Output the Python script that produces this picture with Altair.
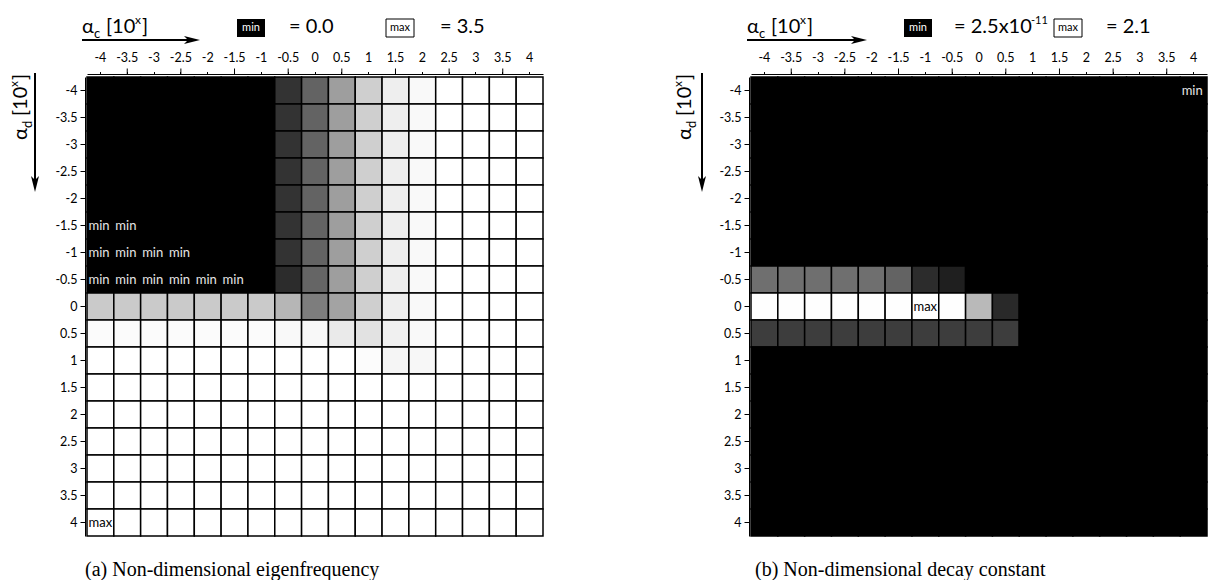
import altair as alt
import pandas as pd

# ---------------- data ----------------
ticks = ["-4", "-3.5", "-3", "-2.5", "-2", "-1.5", "-1", "-0.5", "0",
         "0.5", "1", "1.5", "2", "2.5", "3", "3.5", "4"]

# (a) non-dimensional eigenfrequency, rows = alpha_d (-4 .. 4), cols = alpha_c (-4 .. 4)
eig_rows = [
    [0, 0, 0, 0, 0, 0, 0, 0.74, 1.47, 2.28, 2.91, 3.29, 3.43, 3.5, 3.5, 3.5, 3.5],
    [0, 0, 0, 0, 0, 0, 0, 0.74, 1.47, 2.28, 2.91, 3.29, 3.43, 3.5, 3.5, 3.5, 3.5],
    [0, 0, 0, 0, 0, 0, 0, 0.74, 1.47, 2.28, 2.91, 3.29, 3.43, 3.5, 3.5, 3.5, 3.5],
    [0, 0, 0, 0, 0, 0, 0, 0.74, 1.47, 2.28, 2.91, 3.29, 3.43, 3.5, 3.5, 3.5, 3.5],
    [0, 0, 0, 0, 0, 0, 0, 0.74, 1.47, 2.28, 2.91, 3.29, 3.43, 3.5, 3.5, 3.5, 3.5],
    [0, 0, 0, 0, 0, 0, 0, 0.74, 1.47, 2.28, 2.91, 3.29, 3.43, 3.5, 3.5, 3.5, 3.5],
    [0, 0, 0, 0, 0, 0, 0, 0.74, 1.47, 2.28, 2.91, 3.29, 3.43, 3.5, 3.5, 3.5, 3.5],
    [0, 0, 0, 0, 0, 0, 0, 0.63, 1.50, 2.28, 2.91, 3.29, 3.43, 3.5, 3.5, 3.5, 3.5],
    [2.85, 2.85, 2.85, 2.85, 2.85, 2.85, 2.85, 2.59, 1.83, 2.35, 2.91, 3.29, 3.43, 3.5, 3.5, 3.5, 3.5],
    [3.45, 3.45, 3.45, 3.45, 3.45, 3.45, 3.45, 3.43, 3.42, 3.25, 3.14, 3.32, 3.43, 3.5, 3.5, 3.5, 3.5],
    [3.5, 3.5, 3.5, 3.5, 3.5, 3.5, 3.5, 3.5, 3.5, 3.5, 3.46, 3.38, 3.40, 3.5, 3.5, 3.5, 3.5],
    [3.5, 3.5, 3.5, 3.5, 3.5, 3.5, 3.5, 3.5, 3.5, 3.5, 3.5, 3.5, 3.5, 3.5, 3.5, 3.5, 3.5],
    [3.5, 3.5, 3.5, 3.5, 3.5, 3.5, 3.5, 3.5, 3.5, 3.5, 3.5, 3.5, 3.5, 3.5, 3.5, 3.5, 3.5],
    [3.5, 3.5, 3.5, 3.5, 3.5, 3.5, 3.5, 3.5, 3.5, 3.5, 3.5, 3.5, 3.5, 3.5, 3.5, 3.5, 3.5],
    [3.5, 3.5, 3.5, 3.5, 3.5, 3.5, 3.5, 3.5, 3.5, 3.5, 3.5, 3.5, 3.5, 3.5, 3.5, 3.5, 3.5],
    [3.5, 3.5, 3.5, 3.5, 3.5, 3.5, 3.5, 3.5, 3.5, 3.5, 3.5, 3.5, 3.5, 3.5, 3.5, 3.5, 3.5],
    [3.5, 3.5, 3.5, 3.5, 3.5, 3.5, 3.5, 3.5, 3.5, 3.5, 3.5, 3.5, 3.5, 3.5, 3.5, 3.5, 3.5],
]
eig_max = 3.5
eig_min_x = ["-4", "-3.5", "-4", "-3.5", "-3", "-2.5", "-4", "-3.5", "-3", "-2.5", "-2", "-1.5"]
eig_min_y = ["-1.5", "-1.5", "-1", "-1", "-1", "-1", "-0.5", "-0.5", "-0.5", "-0.5", "-0.5", "-0.5"]
eig_max_x = ["-4"]
eig_max_y = ["4"]

# (b) non-dimensional decay constant
dec_rows = [
    [0] * 17, [0] * 17, [0] * 17, [0] * 17, [0] * 17, [0] * 17, [0] * 17,
    [0.98, 0.98, 0.98, 0.98, 0.98, 0.88, 0.38, 0.25, 0, 0, 0, 0, 0, 0, 0, 0, 0],
    [2.09, 2.09, 2.09, 2.09, 2.09, 2.09, 2.1, 2.09, 1.58, 0.35, 0, 0, 0, 0, 0, 0, 0],
    [0.54, 0.54, 0.54, 0.54, 0.54, 0.54, 0.54, 0.54, 0.54, 0.54, 0, 0, 0, 0, 0, 0, 0],
    [0] * 17, [0] * 17, [0] * 17, [0] * 17, [0] * 17, [0] * 17, [0] * 17,
]
dec_max = 2.1
dec_min_x = ["4"]
dec_min_y = ["-4"]
dec_max_x = ["-1"]
dec_max_y = ["0"]

half_ticks = ["-3.5", "-2.5", "-1.5", "-0.5", "0.5", "1.5", "2.5", "3.5"]

# ---------------- styling ----------------
W, H = 456, 459
CELL = W / 17
FONT = "Lato"
one = pd.DataFrame({"a": [0]})


def cells_df(rows):
    recs = []
    for yi, row in enumerate(rows):
        for xi, v in enumerate(row):
            recs.append({"xc": ticks[xi], "yc": ticks[yi], "v": v})
    return pd.DataFrame(recs)


def enc_x():
    return alt.X("xc:O", sort=ticks,
                 scale=alt.Scale(domain=ticks, paddingInner=0, paddingOuter=0),
                 axis=alt.Axis(orient="top", title=None, labelAngle=0, tickSize=2.5,
                               labelPadding=7, offset=3, domainColor="black",
                               tickColor="black", labelColor="black", labelFont=FONT,
                               labelFontSize=12.5, grid=False))


def enc_y():
    return alt.Y("yc:O", sort=ticks,
                 scale=alt.Scale(domain=ticks, paddingInner=0, paddingOuter=0),
                 axis=alt.Axis(orient="left", title=None, tickSize=5, labelPadding=3,
                               offset=2, domainColor="black", tickColor="black",
                               labelColor="black", labelFont=FONT, labelFontSize=12.5,
                               grid=False))


def text_piece(txt, size, x, y, dx=0, dy=0, angle=0, color="black", align="left",
               baseline="alphabetic", font=FONT):
    return alt.Chart(one).mark_text(text=txt, fontSize=size, dx=dx, dy=dy, angle=angle,
                                    color=color, align=align, baseline=baseline,
                                    font=font).encode(x=alt.value(x), y=alt.value(y))


def rich_title(sub, x, y, angle=0):
    parts = [("α", 20, 0, 0), (sub, 13, 12, 5), ("[10", 20, 24, 0), ("x", 12, 53, -9),
             ("]", 20, 60, 0)]
    return [text_piece(t, s, x, y, dx=dx, dy=dy, angle=angle) for t, s, dx, dy in parts]


def cell_labels(xs, ys, txt, color):
    df = pd.DataFrame({"xc": xs, "yc": ys})
    return alt.Chart(df).mark_text(text=txt, align="left", baseline="middle",
                                   dx=-CELL / 2 + 1.5, fontSize=13, font=FONT,
                                   color=color).encode(x=enc_x(), y=enc_y())


HY = -44  # header baseline (relative to grid top)


def panel(rows, vmax, minx, miny, maxx, maxy, eq_min_parts, eq_max, caption, cap_x,
          yt_x, yarrow_x, hx0, boxmin_x, eqmin_x, boxmax_x, eqmax_x, arrow_tip):
    layers = []
    heat = alt.Chart(cells_df(rows)).mark_rect(stroke="black", strokeWidth=1.5).encode(
        x=enc_x(), y=enc_y(),
        color=alt.Color("v:Q", scale=alt.Scale(domain=[0, vmax], range=["#000000", "#ffffff"]),
                        legend=None))
    layers.append(heat)
    layers.append(cell_labels(minx, miny, "min", "#e6e6e6"))
    layers.append(cell_labels(maxx, maxy, "max", "#000000"))

    # long ticks at half-integers
    layers.append(alt.Chart(pd.DataFrame({"xc": half_ticks})).mark_rule(color="black", strokeWidth=1).encode(
        x=enc_x(), y=alt.value(-8.5), y2=alt.value(-3)))

    # header: x title with arrow
    layers += rich_title("c", hx0, HY)
    layers.append(alt.Chart(one).mark_rule(color="black", strokeWidth=2).encode(
        x=alt.value(hx0), x2=alt.value(arrow_tip - 12), y=alt.value(HY + 7)))
    layers.append(alt.Chart(one).mark_point(shape="M-1,-0.5L1,0L-1,0.5L-0.5,0Z", filled=True,
                                            size=256, color="black", opacity=1, strokeWidth=0).encode(
        x=alt.value(arrow_tip - 8), y=alt.value(HY + 7)))

    # legend boxes
    layers.append(alt.Chart(one).mark_rect(color="black").encode(
        x=alt.value(boxmin_x), x2=alt.value(boxmin_x + 28), y=alt.value(HY - 14),
        y2=alt.value(HY + 4)))
    layers.append(text_piece("min", 11, boxmin_x + 14, HY - 5, color="white", align="center",
                             baseline="middle"))
    for t, s, dx, dy in eq_min_parts:
        layers.append(text_piece(t, s, eqmin_x, HY, dx=dx, dy=dy))
    layers.append(alt.Chart(one).mark_rect(fill="white", stroke="black", strokeWidth=1).encode(
        x=alt.value(boxmax_x), x2=alt.value(boxmax_x + 28), y=alt.value(HY - 14),
        y2=alt.value(HY + 4)))
    layers.append(text_piece("max", 11, boxmax_x + 14, HY - 5, color="black", align="center",
                             baseline="middle"))
    layers.append(text_piece(eq_max, 20, eqmax_x, HY))

    # y title (rotated) with arrow
    layers += rich_title("d", yt_x, 63, angle=270)
    layers.append(alt.Chart(one).mark_rule(color="black", strokeWidth=2).encode(
        x=alt.value(yarrow_x), y=alt.value(-4), y2=alt.value(103)))
    layers.append(alt.Chart(one).mark_point(shape="M-0.5,-1L0,1L0.5,-1L0,-0.5Z", filled=True,
                                            size=256, color="black", opacity=1, strokeWidth=0).encode(
        x=alt.value(yarrow_x), y=alt.value(107)))

    # caption
    layers.append(text_piece(caption, 20, cap_x, 499, align="left", font="Liberation Serif"))

    return alt.layer(*layers).properties(width=W, height=H)


left = panel(eig_rows, eig_max, eig_min_x, eig_min_y, eig_max_x, eig_max_y,
             [("= 0.0", 20, 0, 0)], "= 3.5",
             "(a) Non-dimensional eigenfrequency", -2, -60, -52,
             -5, 150, 202, 299, 353, 113)
right = panel(dec_rows, dec_max, dec_min_x, dec_min_y, dec_max_x, dec_max_y,
              [("= 2.5x10", 20, 0, 0), ("-11", 11, 77, -9)], "= 2.1",
              "(b) Non-dimensional decay constant", 4, -60, -49,
              -4, 153, 203, 303, 355, 116)

chart = alt.hconcat(left, right, spacing=127).resolve_scale(
    color="independent"
).properties(padding={"left": 7, "top": 14, "right": 0, "bottom": 0}).configure_view(stroke=None)

chart.save("out.html", embed_options={"renderer": "svg", "actions": False})
